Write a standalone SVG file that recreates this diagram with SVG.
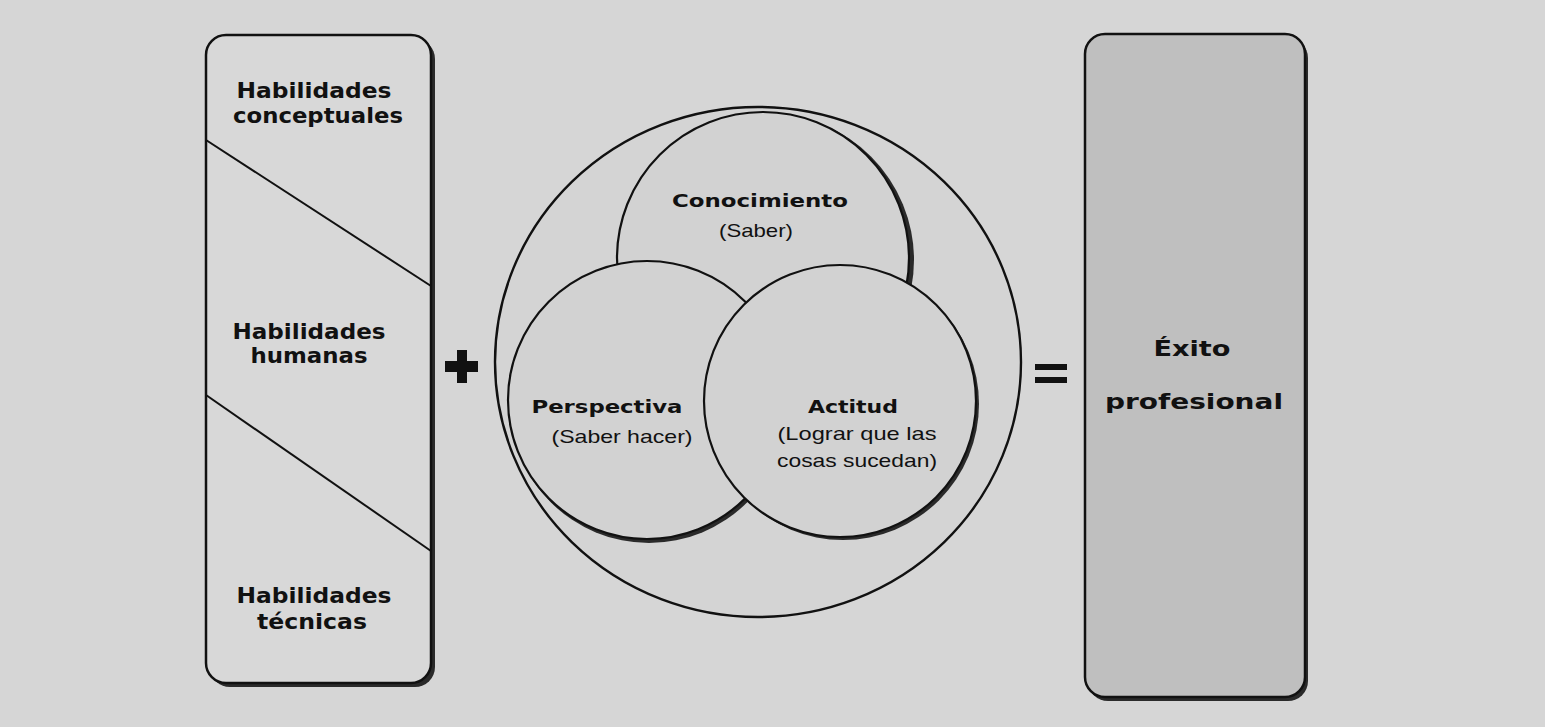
<svg xmlns="http://www.w3.org/2000/svg" width="1545" height="727" viewBox="0 0 1545 727">
  <defs>
    <style>
      .bg { fill: #d6d6d6; }
      .box { fill: #d8d8d8; stroke: #111; stroke-width: 2.5; }
      .shadow { fill: #2a2a2a; }
      .line { stroke: #111; stroke-width: 2; fill: none; }
      .circ { fill: #d2d2d2; stroke: #111; stroke-width: 2.2; }
      .outer { fill: #d4d4d4; stroke: #111; stroke-width: 2.4; }
      .exito { fill: #bfbfbf; stroke: #111; stroke-width: 2.5; }
      .bold { font-family: "DejaVu Sans", "Liberation Sans", sans-serif; font-weight: bold; fill: #111; text-anchor: middle; }
      .reg { font-family: "Liberation Sans", Arial, sans-serif; fill: #111; text-anchor: middle; }
      .sym { fill: #111; }
    </style>
  </defs>

  <rect class="bg" x="0" y="0" width="1545" height="727"/>

  <g id="node-habilidades">
    <rect class="shadow" x="210" y="39" width="225" height="648" rx="20"/>
    <rect class="box" x="206" y="35" width="225" height="648" rx="20"/>
    <line class="line" x1="206" y1="140" x2="431" y2="286"/>
    <line class="line" x1="206" y1="395" x2="431" y2="551"/>
    <text class="bold" x="314" y="98" font-size="21" textLength="155" lengthAdjust="spacingAndGlyphs">Habilidades</text>
    <text class="bold" x="318" y="123" font-size="21" textLength="170" lengthAdjust="spacingAndGlyphs">conceptuales</text>
    <text class="bold" x="309" y="339" font-size="21" textLength="153" lengthAdjust="spacingAndGlyphs">Habilidades</text>
    <text class="bold" x="309" y="363" font-size="21" textLength="117" lengthAdjust="spacingAndGlyphs">humanas</text>
    <text class="bold" x="314" y="603" font-size="21" textLength="155" lengthAdjust="spacingAndGlyphs">Habilidades</text>
    <text class="bold" x="312" y="629" font-size="21" textLength="110" lengthAdjust="spacingAndGlyphs">técnicas</text>
  </g>

  <g id="node-plus">
    <rect class="sym" x="457" y="350" width="10" height="33"/>
    <rect class="sym" x="445" y="361" width="33" height="11"/>
  </g>

  <g id="node-competencias">
    <ellipse class="outer" cx="758" cy="362" rx="263" ry="255"/>
    <g id="node-conocimiento">
      <circle class="shadow" cx="768" cy="260" r="146"/>
      <circle class="circ" cx="763" cy="258" r="146"/>
      <text class="bold" x="760" y="207" font-size="18" textLength="176" lengthAdjust="spacingAndGlyphs">Conocimiento</text>
      <text class="reg" x="756" y="237" font-size="19" textLength="74" lengthAdjust="spacingAndGlyphs">(Saber)</text>
    </g>
    <g id="node-perspectiva">
      <circle class="shadow" cx="649" cy="404" r="139"/>
      <circle class="circ" cx="647" cy="400" r="139"/>
      <text class="bold" x="607" y="413" font-size="18" textLength="151" lengthAdjust="spacingAndGlyphs">Perspectiva</text>
      <text class="reg" x="622" y="443" font-size="19" textLength="141" lengthAdjust="spacingAndGlyphs">(Saber hacer)</text>
    </g>
    <g id="node-actitud">
      <circle class="shadow" cx="843" cy="404" r="136"/>
      <circle class="circ" cx="840" cy="401" r="136"/>
      <text class="bold" x="853" y="413" font-size="18" textLength="90" lengthAdjust="spacingAndGlyphs">Actitud</text>
      <text class="reg" x="857" y="440" font-size="19" textLength="159" lengthAdjust="spacingAndGlyphs">(Lograr que las</text>
      <text class="reg" x="857" y="467" font-size="19" textLength="160" lengthAdjust="spacingAndGlyphs">cosas sucedan)</text>
    </g>
  </g>

  <g id="node-equals">
    <rect class="sym" x="1035" y="364" width="32" height="6"/>
    <rect class="sym" x="1035" y="377" width="32" height="6"/>
  </g>

  <g id="node-exito">
    <rect class="shadow" x="1088" y="38" width="220" height="663" rx="20"/>
    <rect class="exito" x="1085" y="34" width="220" height="663" rx="20"/>
    <text class="bold" x="1192" y="356" font-size="22" textLength="77" lengthAdjust="spacingAndGlyphs">Éxito</text>
    <text class="bold" x="1194" y="409" font-size="22" textLength="178" lengthAdjust="spacingAndGlyphs">profesional</text>
  </g>

  <g id="connectors"></g>
</svg>
